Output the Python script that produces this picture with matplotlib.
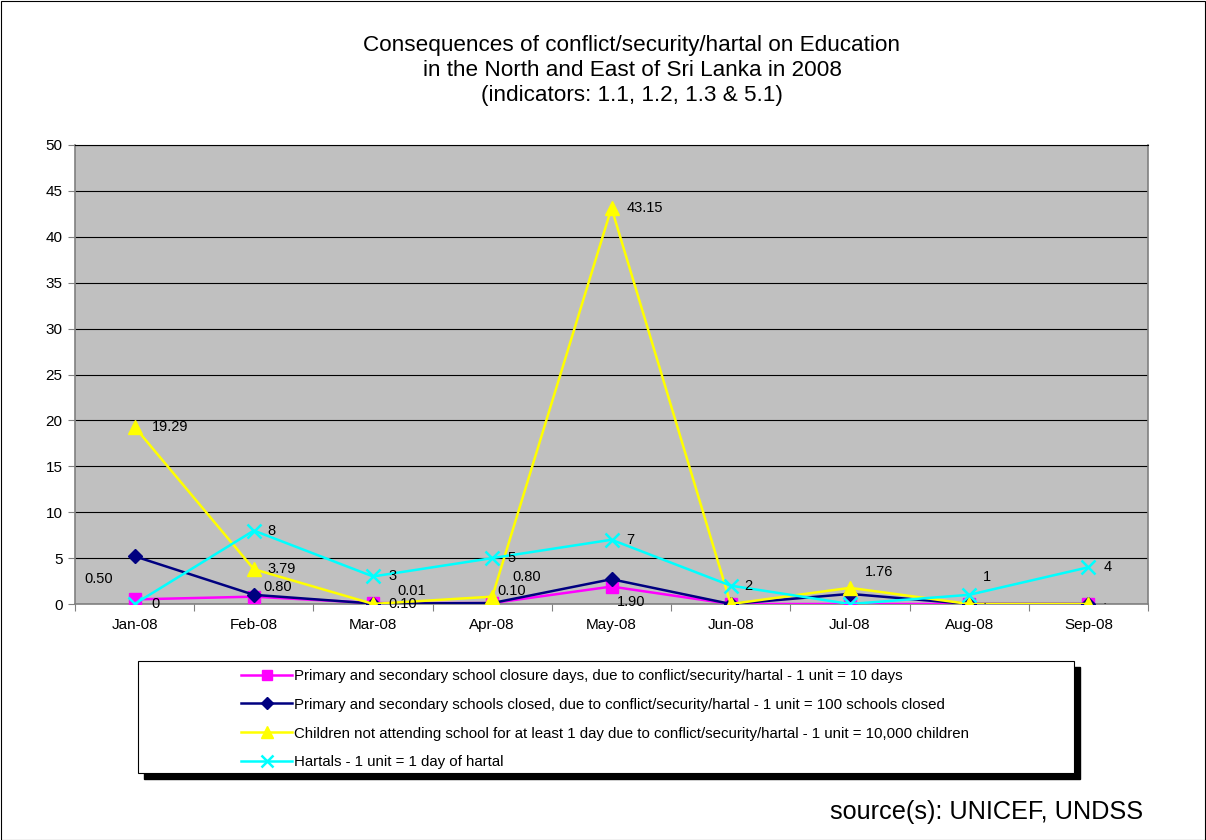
import numpy as np
import matplotlib
matplotlib.use("Agg")
import matplotlib.pyplot as plt
from matplotlib.patches import Rectangle
plt.rcParams["font.family"] = ["Liberation Sans", "DejaVu Sans"]

# data
months = ["Jan-08", "Feb-08", "Mar-08", "Apr-08", "May-08", "Jun-08", "Jul-08", "Aug-08", "Sep-08"]
closure_days = [0.50, 0.80, 0.10, 0.10, 1.90, 0, 0, 0, 0]
schools_closed = [5.2, 1.0, 0.05, 0.1, 2.7, 0, 1.1, 0, 0]
children_absent = [19.29, 3.79, 0.01, 0.80, 43.15, 0, 1.76, 0, 0]
hartals = [0, 8, 3, 5, 7, 2, 0, 1, 4]

closure_labels = ["0.50", "0.80", "0.10", "0.10", "1.90", "", "", "", ""]
children_labels = ["19.29", "3.79", "0.01", "0.80", "43.15", "", "1.76", "-", "-"]
hartal_labels = ["0", "8", "3", "5", "7", "2", "", "1", "4"]

legend_labels = [
    "Primary and secondary school closure days, due to conflict/security/hartal - 1 unit = 10 days",
    "Primary and secondary schools closed, due to conflict/security/hartal - 1 unit = 100 schools closed",
    "Children not attending school for at least 1 day due to conflict/security/hartal - 1 unit = 10,000 children",
    "Hartals - 1 unit = 1 day of hartal",
]

# label offsets in pixels (style, not data)
closure_off = [(-50, 20), (10, 10), (15, -1), (5, 12), (5, -15), (0, 0), (0, 0), (0, 0), (0, 0)]
children_off = [(17, 0), (14, 0), (24, 13), (20, 20), (15, 0), (0, 0), (15, 16), (15, 0), (15, 0)]
hartal_off = [(17, 0), (14, 0), (15, 0), (15, 0), (15, 0), (14, 0), (0, 0), (14, 18), (15, 0)]

W, H = 1206, 840
fig = plt.figure(figsize=(W / 100, H / 100), dpi=100)
fig.patches.append(Rectangle((0.5 / W, 0.5 / H), 1 - 1.5 / W, 1 - 1.5 / H, transform=fig.transFigure,
                             fill=False, edgecolor="black", linewidth=0.8))

ax = fig.add_axes([75 / W, 1 - 604 / H, (1148 - 75) / W, (604 - 145) / H])
ax.set_facecolor("#C0C0C0")
x = np.arange(len(months)) + 0.5

ax.plot(x, closure_days, color="#FF00FF", marker="s", markersize=8.5, linewidth=1.8,
        label=legend_labels[0], zorder=3)
ax.plot(x, schools_closed, color="#000080", marker="D", markersize=7.5, linewidth=1.8,
        label=legend_labels[1], zorder=3)
ax.plot(x, children_absent, color="#FFFF00", marker="^", markersize=10, linewidth=1.8,
        label=legend_labels[2], zorder=3)
ax.plot(x, hartals, color="#00FFFF", marker="x", markersize=10, markeredgewidth=1.8, linewidth=1.8,
        label=legend_labels[3], zorder=3)

for vals, labs, offs in [(closure_days, closure_labels, closure_off),
                         (children_absent, children_labels, children_off),
                         (hartals, hartal_labels, hartal_off)]:
    for xi, v, lab, off in zip(x, vals, labs, offs):
        if lab:
            ax.annotate(lab, (xi, v), xytext=(off[0] * 0.72, off[1] * 0.72), textcoords="offset points",
                        ha="left", va="center", fontsize=10.5 if lab != "-" else 5, zorder=4)

ax.set_xlim(0, len(months))
ax.set_ylim(0, 50)
ax.set_yticks(np.arange(0, 51, 5))
ax.set_xticks(np.arange(len(months) + 1), minor=False)
ax.set_xticklabels([])
ax.set_xticks(x, minor=True)
ax.set_xticklabels(months, minor=True)
ax.tick_params(axis="x", which="minor", length=0, pad=10, labelsize=11)
ax.tick_params(axis="x", which="major", length=5, direction="out", color="#808080")
ax.tick_params(axis="y", length=5, direction="out", color="#808080", labelsize=11, pad=4)
ax.yaxis.grid(True, color="black", linewidth=0.8)
ax.set_axisbelow(True)
for s in ["left", "bottom", "right"]:
    ax.spines[s].set_color("#808080")
    ax.spines[s].set_linewidth(1.2)
ax.spines["top"].set_color("black")
ax.spines["top"].set_linewidth(0.8)

# titles
fig.text(632 / W, 1 - 46 / H, "Consequences of conflict/security/hartal on Education", ha="center", va="center", fontsize=16.2)
fig.text(632 / W, 1 - 71 / H, "in the North and East of Sri Lanka in 2008", ha="center", va="center", fontsize=16.2)
fig.text(632 / W, 1 - 96 / H, "(indicators: 1.1, 1.2, 1.3 & 5.1)", ha="center", va="center", fontsize=16.2)

# legend box with solid shadow
fig.patches.append(Rectangle((144 / W, 1 - 779 / H), 936 / W, 112 / H, transform=fig.transFigure,
                             facecolor="black", edgecolor="black", zorder=1))
fig.patches.append(Rectangle((138 / W, 1 - 773 / H), 936 / W, 112 / H, transform=fig.transFigure,
                             facecolor="white", edgecolor="black", linewidth=0.8, zorder=2))
leg = fig.legend(loc="upper left", bbox_to_anchor=(241 / W, 1 - 669 / H), frameon=False,
                 fontsize=10.85, handlelength=3.4, handletextpad=0.1, borderpad=0, borderaxespad=0,
                 labelspacing=0.98, markerscale=0.85)
leg.set_zorder(3)

fig.text(1143 / W, 1 - 812 / H, "source(s): UNICEF, UNDSS", ha="right", va="center", fontsize=18.2)

fig.savefig("out.png", dpi=100)
